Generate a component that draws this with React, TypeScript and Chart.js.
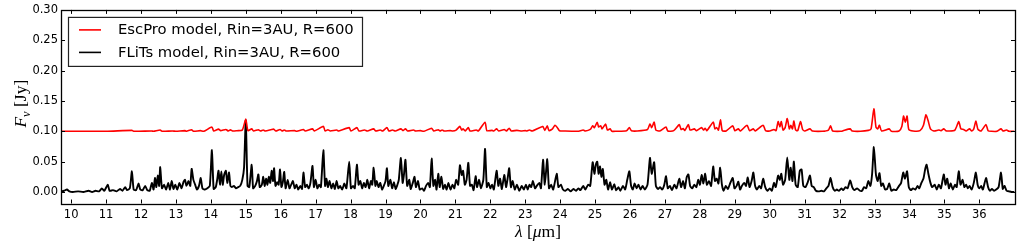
import React, { useEffect, useRef } from "react";
import { Chart, registerables } from "chart.js";

Chart.register(...registerables);

const wavelengthTicks = [10, 11, 12, 13, 14, 15, 16, 17, 18, 19, 20, 21, 22, 23, 24, 25, 26, 27, 28, 29, 30, 31, 32, 33, 34, 35, 36];
const fluxTicks = [0.0, 0.05, 0.1, 0.15, 0.2, 0.25, 0.3];
const seriesLabels = ["EscPro model, Rin=3AU, R=600", "FLiTs model, Rin=3AU, R=600"];
const seriesColors = ["#ff0000", "#000000"];

const escproSpectrum: [number, number][] = [
  [9.71,0.1],[11.0,0.1],[11.74,0.1015],[11.8,0.1],[12.3,0.1005],[12.36,0.1],[12.55,0.102],[12.6,0.1],[12.9,0.1005],[13.0,0.1],[13.26,0.101],[13.3,0.1],[13.45,0.1025],[13.5,0.1],[13.7,0.101],[13.8,0.1],[14.03,0.107],[14.08,0.1005],[14.22,0.1035],[14.28,0.101],[14.43,0.103],[14.5,0.1005],[14.56,0.1025],[14.62,0.1005],[14.75,0.101],[14.9,0.102],[15.0,0.12],[15.06,0.101],[15.17,0.104],[15.22,0.1005],[15.36,0.1025],[15.42,0.1005],[15.5,0.102],[15.56,0.1005],[15.74,0.103],[15.8,0.1035],[15.86,0.1005],[15.98,0.103],[16.04,0.1005],[16.1,0.102],[16.16,0.1005],[16.4,0.101],[16.46,0.1],[16.65,0.103],[16.7,0.1005],[16.91,0.104],[16.96,0.1005],[17.22,0.108],[17.27,0.1005],[17.35,0.1025],[17.42,0.1005],[17.6,0.102],[17.66,0.1005],[17.96,0.106],[18.01,0.1005],[18.18,0.106],[18.24,0.1005],[18.4,0.102],[18.48,0.1005],[18.66,0.104],[18.72,0.1005],[18.85,0.102],[18.92,0.1005],[19.04,0.106],[19.1,0.1005],[19.2,0.102],[19.28,0.1005],[19.44,0.104],[19.5,0.101],[19.57,0.104],[19.63,0.1005],[19.8,0.102],[19.86,0.1005],[20.0,0.101],[20.1,0.1],[20.32,0.105],[20.38,0.1005],[20.51,0.1025],[20.56,0.1005],[20.62,0.102],[20.68,0.1005],[20.85,0.101],[20.92,0.1005],[21.02,0.102],[21.13,0.108],[21.18,0.102],[21.22,0.104],[21.28,0.1005],[21.37,0.106],[21.42,0.1005],[21.6,0.102],[21.66,0.1005],[21.85,0.115],[21.9,0.101],[22.05,0.1015],[22.1,0.1005],[22.18,0.104],[22.24,0.1005],[22.4,0.103],[22.46,0.1005],[22.54,0.105],[22.6,0.1005],[22.76,0.1015],[22.9,0.1005],[23.0,0.101],[23.05,0.1005],[23.12,0.102],[23.2,0.1005],[23.5,0.108],[23.56,0.1015],[23.63,0.109],[23.68,0.101],[23.78,0.104],[23.85,0.11],[23.92,0.106],[23.98,0.101],[24.1,0.1005],[24.5,0.1],[24.66,0.102],[24.72,0.1005],[24.86,0.103],[24.93,0.109],[24.98,0.106],[25.06,0.115],[25.1,0.107],[25.16,0.109],[25.2,0.104],[25.3,0.112],[25.35,0.102],[25.43,0.104],[25.48,0.1],[25.6,0.1],[25.9,0.101],[25.98,0.106],[26.04,0.101],[26.2,0.1005],[26.5,0.103],[26.57,0.112],[26.62,0.106],[26.69,0.115],[26.74,0.102],[26.85,0.1005],[27.03,0.107],[27.08,0.1005],[27.25,0.101],[27.41,0.111],[27.46,0.103],[27.52,0.1045],[27.57,0.1015],[27.67,0.111],[27.72,0.102],[27.84,0.104],[27.9,0.101],[28.05,0.106],[28.1,0.102],[28.15,0.105],[28.2,0.101],[28.38,0.115],[28.43,0.104],[28.48,0.106],[28.53,0.102],[28.59,0.119],[28.64,0.101],[28.75,0.1005],[28.94,0.109],[29.0,0.101],[29.1,0.104],[29.16,0.1005],[29.35,0.11],[29.42,0.101],[29.53,0.104],[29.58,0.1005],[29.81,0.11],[29.88,0.101],[30.0,0.1005],[30.12,0.103],[30.18,0.101],[30.24,0.116],[30.29,0.107],[30.33,0.116],[30.38,0.102],[30.44,0.106],[30.5,0.121],[30.56,0.104],[30.6,0.11],[30.65,0.104],[30.69,0.117],[30.74,0.102],[30.8,0.101],[30.88,0.116],[30.94,0.103],[31.0,0.1005],[31.15,0.104],[31.22,0.1005],[31.5,0.1],[31.68,0.102],[31.74,0.109],[31.8,0.1005],[32.05,0.1],[32.1,0.101],[32.3,0.104],[32.36,0.1005],[32.6,0.1],[32.82,0.1015],[32.9,0.104],[32.98,0.137],[33.04,0.107],[33.09,0.104],[33.14,0.11],[33.2,0.1005],[33.42,0.104],[33.48,0.1],[33.7,0.1005],[33.78,0.108],[33.83,0.125],[33.88,0.115],[33.93,0.125],[33.98,0.103],[34.1,0.1005],[34.3,0.101],[34.4,0.11],[34.47,0.127],[34.53,0.118],[34.6,0.104],[34.7,0.1005],[34.84,0.102],[34.9,0.101],[34.98,0.104],[35.04,0.101],[35.12,0.1005],[35.3,0.102],[35.41,0.116],[35.47,0.104],[35.55,0.103],[35.62,0.1005],[35.72,0.104],[35.78,0.1005],[35.84,0.104],[35.9,0.117],[35.96,0.103],[36.05,0.1005],[36.19,0.111],[36.25,0.101],[36.35,0.1],[36.5,0.1],[36.62,0.104],[36.68,0.1005],[36.78,0.102],[36.85,0.1],[37.0,0.1]
];

const flitsSpectrum: [number, number][] = [
  [9.71,0.001],[9.8,0.002],[9.88,0.004],[9.95,0.001],[10.05,0.0],[10.2,0.001],[10.35,0.0],[10.5,0.002],[10.6,0.0],[10.7,0.002],[10.8,0.001],[10.88,0.006],[10.95,0.002],[11.05,0.012],[11.1,0.002],[11.2,0.003],[11.3,0.001],[11.4,0.005],[11.47,0.002],[11.55,0.008],[11.6,0.003],[11.68,0.006],[11.74,0.034],[11.79,0.004],[11.86,0.003],[11.93,0.014],[11.98,0.004],[12.05,0.003],[12.12,0.01],[12.18,0.003],[12.25,0.002],[12.31,0.015],[12.36,0.004],[12.4,0.023],[12.44,0.008],[12.48,0.027],[12.52,0.01],[12.55,0.041],[12.6,0.006],[12.66,0.012],[12.72,0.004],[12.78,0.015],[12.83,0.004],[12.88,0.018],[12.93,0.005],[12.98,0.012],[13.04,0.004],[13.1,0.015],[13.16,0.006],[13.22,0.017],[13.26,0.02],[13.3,0.01],[13.36,0.018],[13.41,0.01],[13.45,0.038],[13.5,0.02],[13.55,0.012],[13.6,0.004],[13.66,0.01],[13.71,0.023],[13.76,0.006],[13.83,0.004],[13.9,0.006],[13.97,0.01],[14.03,0.069],[14.08,0.005],[14.14,0.008],[14.18,0.02],[14.22,0.035],[14.26,0.012],[14.3,0.034],[14.34,0.012],[14.38,0.028],[14.43,0.035],[14.47,0.015],[14.52,0.032],[14.56,0.01],[14.6,0.008],[14.66,0.01],[14.72,0.006],[14.78,0.008],[14.84,0.01],[14.9,0.02],[14.95,0.04],[15.0,0.118],[15.05,0.01],[15.1,0.008],[15.17,0.045],[15.21,0.006],[15.27,0.01],[15.32,0.018],[15.36,0.029],[15.4,0.008],[15.46,0.012],[15.5,0.025],[15.54,0.01],[15.58,0.022],[15.62,0.012],[15.66,0.025],[15.7,0.015],[15.74,0.035],[15.78,0.018],[15.81,0.039],[15.85,0.01],[15.9,0.016],[15.94,0.012],[15.98,0.037],[16.02,0.008],[16.06,0.016],[16.1,0.033],[16.14,0.006],[16.2,0.02],[16.25,0.006],[16.3,0.012],[16.35,0.018],[16.4,0.006],[16.45,0.012],[16.5,0.004],[16.56,0.01],[16.61,0.005],[16.65,0.032],[16.7,0.008],[16.75,0.012],[16.8,0.006],[16.85,0.015],[16.91,0.043],[16.95,0.008],[17.0,0.02],[17.05,0.006],[17.1,0.012],[17.15,0.008],[17.22,0.069],[17.27,0.01],[17.31,0.022],[17.35,0.008],[17.4,0.018],[17.45,0.006],[17.5,0.014],[17.55,0.005],[17.6,0.018],[17.65,0.006],[17.7,0.01],[17.76,0.004],[17.82,0.014],[17.88,0.006],[17.96,0.05],[18.01,0.006],[18.07,0.01],[18.12,0.006],[18.18,0.045],[18.23,0.012],[18.28,0.018],[18.33,0.006],[18.38,0.015],[18.43,0.008],[18.48,0.02],[18.53,0.006],[18.58,0.018],[18.62,0.012],[18.66,0.04],[18.71,0.01],[18.75,0.018],[18.8,0.008],[18.85,0.015],[18.9,0.004],[18.95,0.01],[19.0,0.018],[19.04,0.039],[19.08,0.01],[19.14,0.02],[19.19,0.006],[19.24,0.016],[19.29,0.005],[19.34,0.012],[19.38,0.02],[19.44,0.056],[19.49,0.015],[19.53,0.03],[19.57,0.053],[19.62,0.01],[19.68,0.02],[19.72,0.005],[19.78,0.015],[19.83,0.025],[19.87,0.008],[19.93,0.018],[19.98,0.004],[20.05,0.006],[20.1,0.002],[20.16,0.01],[20.22,0.015],[20.27,0.008],[20.32,0.055],[20.37,0.01],[20.42,0.02],[20.46,0.004],[20.51,0.03],[20.55,0.008],[20.6,0.025],[20.65,0.005],[20.7,0.012],[20.75,0.004],[20.8,0.015],[20.86,0.004],[20.92,0.012],[20.97,0.006],[21.02,0.02],[21.08,0.012],[21.13,0.044],[21.18,0.028],[21.22,0.035],[21.27,0.012],[21.32,0.02],[21.37,0.048],[21.42,0.01],[21.47,0.012],[21.52,0.003],[21.58,0.026],[21.62,0.008],[21.68,0.02],[21.73,0.006],[21.8,0.02],[21.85,0.071],[21.9,0.008],[21.95,0.015],[22.0,0.006],[22.05,0.012],[22.1,0.004],[22.18,0.035],[22.23,0.01],[22.28,0.022],[22.33,0.005],[22.4,0.028],[22.45,0.008],[22.5,0.024],[22.54,0.039],[22.59,0.008],[22.64,0.018],[22.7,0.004],[22.76,0.012],[22.83,0.002],[22.9,0.01],[22.96,0.004],[23.02,0.012],[23.07,0.004],[23.12,0.012],[23.17,0.008],[23.22,0.018],[23.28,0.006],[23.33,0.01],[23.4,0.015],[23.45,0.006],[23.51,0.053],[23.56,0.012],[23.63,0.054],[23.68,0.006],[23.74,0.012],[23.8,0.004],[23.9,0.03],[23.95,0.008],[24.02,0.012],[24.08,0.004],[24.15,0.002],[24.22,0.005],[24.3,0.001],[24.38,0.005],[24.45,0.002],[24.52,0.006],[24.58,0.003],[24.66,0.01],[24.72,0.004],[24.8,0.012],[24.86,0.01],[24.93,0.049],[24.98,0.03],[25.02,0.045],[25.06,0.05],[25.1,0.03],[25.14,0.042],[25.18,0.025],[25.22,0.038],[25.27,0.012],[25.32,0.02],[25.37,0.004],[25.43,0.016],[25.48,0.004],[25.55,0.013],[25.6,0.003],[25.67,0.008],[25.72,0.002],[25.8,0.01],[25.86,0.004],[25.92,0.02],[25.98,0.034],[26.03,0.01],[26.08,0.004],[26.13,0.014],[26.19,0.006],[26.24,0.012],[26.3,0.004],[26.36,0.01],[26.42,0.004],[26.5,0.012],[26.57,0.056],[26.62,0.03],[26.69,0.049],[26.74,0.01],[26.8,0.005],[26.86,0.008],[26.92,0.004],[26.98,0.012],[27.03,0.026],[27.08,0.006],[27.14,0.01],[27.2,0.003],[27.27,0.012],[27.33,0.006],[27.41,0.022],[27.46,0.008],[27.52,0.018],[27.57,0.006],[27.62,0.024],[27.67,0.029],[27.72,0.01],[27.78,0.006],[27.84,0.012],[27.9,0.008],[27.95,0.02],[28.0,0.012],[28.05,0.028],[28.1,0.014],[28.15,0.03],[28.2,0.012],[28.26,0.018],[28.32,0.01],[28.38,0.042],[28.43,0.018],[28.48,0.022],[28.53,0.014],[28.58,0.04],[28.63,0.012],[28.68,0.002],[28.74,0.01],[28.8,0.005],[28.87,0.015],[28.94,0.023],[28.99,0.006],[29.05,0.01],[29.1,0.017],[29.15,0.004],[29.2,0.01],[29.27,0.015],[29.32,0.01],[29.37,0.024],[29.42,0.008],[29.48,0.018],[29.53,0.032],[29.58,0.01],[29.63,0.004],[29.7,0.01],[29.75,0.006],[29.81,0.022],[29.87,0.008],[29.93,0.002],[30.0,0.006],[30.06,0.002],[30.12,0.015],[30.17,0.008],[30.24,0.027],[30.29,0.02],[30.33,0.03],[30.38,0.012],[30.44,0.02],[30.5,0.057],[30.56,0.02],[30.6,0.04],[30.65,0.018],[30.69,0.05],[30.74,0.012],[30.8,0.008],[30.86,0.035],[30.91,0.037],[30.96,0.01],[31.02,0.008],[31.08,0.015],[31.15,0.027],[31.2,0.01],[31.26,0.008],[31.32,0.002],[31.4,0.001],[31.48,0.002],[31.55,0.001],[31.62,0.006],[31.68,0.01],[31.74,0.023],[31.8,0.008],[31.86,0.002],[31.92,0.004],[31.98,0.002],[32.05,0.006],[32.1,0.003],[32.17,0.008],[32.23,0.006],[32.3,0.019],[32.36,0.008],[32.42,0.003],[32.5,0.006],[32.58,0.002],[32.64,0.002],[32.7,0.008],[32.76,0.006],[32.82,0.018],[32.88,0.01],[32.93,0.03],[32.98,0.074],[33.04,0.028],[33.09,0.018],[33.14,0.031],[33.19,0.01],[33.24,0.014],[33.3,0.004],[33.36,0.005],[33.42,0.014],[33.48,0.002],[33.55,0.004],[33.62,0.003],[33.7,0.01],[33.76,0.015],[33.82,0.032],[33.87,0.022],[33.93,0.034],[33.98,0.008],[34.04,0.003],[34.1,0.006],[34.17,0.004],[34.23,0.01],[34.28,0.006],[34.34,0.015],[34.4,0.022],[34.45,0.038],[34.49,0.045],[34.54,0.03],[34.6,0.015],[34.65,0.008],[34.72,0.012],[34.78,0.004],[34.84,0.012],[34.9,0.006],[34.98,0.029],[35.03,0.012],[35.08,0.022],[35.13,0.006],[35.18,0.014],[35.24,0.004],[35.3,0.012],[35.35,0.008],[35.41,0.034],[35.46,0.012],[35.52,0.02],[35.57,0.008],[35.62,0.012],[35.67,0.006],[35.72,0.01],[35.78,0.004],[35.84,0.015],[35.9,0.032],[35.95,0.012],[36.0,0.006],[36.05,0.01],[36.1,0.004],[36.19,0.023],[36.25,0.008],[36.3,0.002],[36.36,0.005],[36.42,0.002],[36.48,0.004],[36.55,0.008],[36.62,0.032],[36.67,0.005],[36.72,0.01],[36.78,0.002],[36.85,0.001],[36.92,0.0],[37.0,0.0]
];

const X_MIN = 9.71;
const X_MAX = 37.02;
const Y_MIN = -0.019;
const Y_MAX = 0.3;

const decorPlugin = {
  id: "decor",
  afterDraw(chart: any) {
    const { ctx, chartArea: a, scales } = chart;
    const xs = scales.x;
    const ys = scales.y;
    ctx.save();
    ctx.strokeStyle = "#000";
    ctx.lineWidth = 1;
    const tl = 4;
    ctx.beginPath();
    for (const v of wavelengthTicks) {
      const px = Math.round(xs.getPixelForValue(v)) + 0.5;
      ctx.moveTo(px, a.bottom);
      ctx.lineTo(px, a.bottom - tl);
      ctx.moveTo(px, a.top);
      ctx.lineTo(px, a.top + tl);
    }
    for (const v of fluxTicks) {
      const py = Math.round(ys.getPixelForValue(v)) + 0.5;
      ctx.moveTo(a.left, py);
      ctx.lineTo(a.left + tl, py);
      ctx.moveTo(a.right, py);
      ctx.lineTo(a.right - tl, py);
    }
    ctx.stroke();
    ctx.lineWidth = 1.3;
    ctx.strokeRect(Math.round(a.left) + 0.5, Math.round(a.top) + 0.5, Math.round(a.right) - Math.round(a.left), Math.round(a.bottom) - Math.round(a.top));

    // legend
    const lx = a.left + 7;
    const ly = a.top + 7;
    const lw = 294;
    const lh = 49;
    ctx.fillStyle = "#fff";
    ctx.fillRect(lx, ly, lw, lh);
    ctx.strokeStyle = "#222";
    ctx.lineWidth = 1.2;
    ctx.strokeRect(lx + 0.5, ly + 0.5, lw, lh);
    ctx.font = "14.8px 'DejaVu Sans'";
    ctx.textBaseline = "middle";
    ctx.textAlign = "left";
    const rows = [ly + 13, ly + 35.5];
    seriesLabels.forEach((label, i) => {
      ctx.strokeStyle = seriesColors[i];
      ctx.lineWidth = 1.6;
      ctx.beginPath();
      ctx.moveTo(lx + 11, rows[i]);
      ctx.lineTo(lx + 33, rows[i]);
      ctx.stroke();
      ctx.fillStyle = "#000";
      ctx.fillText(label, lx + 50, rows[i] + 0.5);
    });

    // x axis title: λ [μm]
    ctx.fillStyle = "#000";
    ctx.textBaseline = "alphabetic";
    const serif = "'Liberation Serif', 'DejaVu Serif', serif";
    const xParts = [
      { t: "λ", f: `italic 17.5px ${serif}` },
      { t: " [", f: `17.5px ${serif}` },
      { t: "μ", f: `italic 17.5px ${serif}` },
      { t: "m]", f: `17.5px ${serif}` },
    ];
    let total = 0;
    for (const p of xParts) { ctx.font = p.f; total += ctx.measureText(p.t).width; }
    let cx = (a.left + a.right) / 2 - total / 2;
    const xBase = 237;
    for (const p of xParts) { ctx.font = p.f; ctx.fillText(p.t, cx, xBase); cx += ctx.measureText(p.t).width; }

    // y axis title: F_ν [Jy]
    ctx.save();
    ctx.translate(26, (a.top + a.bottom) / 2 - 3);
    ctx.rotate(-Math.PI / 2);
    const yParts = [
      { t: "F", f: `italic 17.5px ${serif}`, dy: 0 },
      { t: "ν", f: `italic 12.5px ${serif}`, dy: 4 },
      { t: " [Jy]", f: `17.5px ${serif}`, dy: 0 },
    ];
    total = 0;
    for (const p of yParts) { ctx.font = p.f; total += ctx.measureText(p.t).width; }
    cx = -total / 2;
    for (const p of yParts) { ctx.font = p.f; ctx.fillText(p.t, cx, p.dy); cx += ctx.measureText(p.t).width; }
    ctx.restore();

    ctx.restore();
  },
};

export default function App() {
  const canvasRef = useRef<HTMLCanvasElement | null>(null);

  useEffect(() => {
    const canvas = canvasRef.current;
    if (!canvas) return;
    const chart = new Chart(canvas, {
      type: "line",
      data: {
        datasets: [
          {
            label: seriesLabels[0],
            data: escproSpectrum.map(([x, y]) => ({ x, y })),
            borderColor: seriesColors[0],
            borderWidth: 1.6,
            borderJoinStyle: "round",
            pointRadius: 0,
            tension: 0.2,
            fill: false,
          },
          {
            label: seriesLabels[1],
            data: flitsSpectrum.map(([x, y]) => ({ x, y })),
            borderColor: seriesColors[1],
            borderWidth: 1.9,
            borderJoinStyle: "round",
            pointRadius: 0,
            tension: 0.2,
            fill: false,
          },
        ],
      },
      options: {
        animation: false,
        responsive: false,
        devicePixelRatio: 1,
        layout: { padding: { left: 0, right: 9, top: 7, bottom: 0 } },
        plugins: {
          legend: { display: false },
          tooltip: { enabled: false },
        },
        scales: {
          x: {
            type: "linear",
            min: X_MIN,
            max: X_MAX,
            grid: { display: false, drawTicks: false },
            border: { display: false },
            afterBuildTicks: (scale: any) => {
              scale.ticks = wavelengthTicks.map((v) => ({ value: v }));
            },
            afterFit: (scale: any) => {
              scale.height = 37.5;
            },
            ticks: {
              autoSkip: false,
              maxRotation: 0,
              padding: 5,
              color: "#000",
              font: { family: "'DejaVu Sans'", size: 11.5 },
              callback: (v: any) => String(v),
            },
          },
          y: {
            type: "linear",
            min: Y_MIN,
            max: Y_MAX,
            grid: { display: false, drawTicks: false },
            border: { display: false },
            afterBuildTicks: (scale: any) => {
              scale.ticks = fluxTicks.map((v) => ({ value: v }));
            },
            afterFit: (scale: any) => {
              scale.width = 61;
            },
            ticks: {
              autoSkip: false,
              padding: 3,
              color: "#000",
              font: { family: "'DejaVu Sans'", size: 11.5 },
              callback: (v: any) => Number(v).toFixed(2),
            },
          },
        },
      },
      plugins: [decorPlugin],
    });
    return () => chart.destroy();
  }, []);

  return (
    <div style={{ position: "absolute", left: 0, top: 0, width: 1024, height: 241, background: "#fff" }}>
      <canvas ref={canvasRef} width={1024} height={241} style={{ display: "block" }} />
    </div>
  );
}
